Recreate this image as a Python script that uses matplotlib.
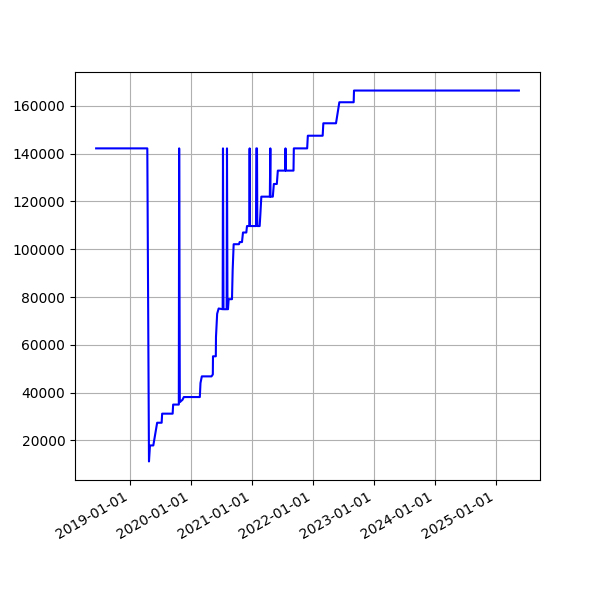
import matplotlib
matplotlib.use('Agg')
import matplotlib.pyplot as plt
import matplotlib.dates as mdates
import pandas as pd

# values
dates = [
    '2018-06-10', '2019-04-13', '2019-04-23', '2019-04-29', '2019-05-19',
    '2019-06-11', '2019-07-08', '2019-07-11', '2019-09-12', '2019-09-15',
    '2019-10-19', '2019-10-21', '2019-10-25', '2019-11-10', '2019-11-18',
    '2020-02-22', '2020-02-26', '2020-03-05', '2020-05-02', '2020-05-10',
    '2020-05-11', '2020-05-28', '2020-05-29', '2020-06-05', '2020-06-14',
    '2020-07-08', '2020-07-10', '2020-07-13', '2020-08-01', '2020-08-03',
    '2020-08-06', '2020-08-09', '2020-08-13', '2020-09-02', '2020-09-06',
    '2020-09-12', '2020-10-14', '2020-10-18', '2020-11-01', '2020-11-07',
    '2020-11-27', '2020-12-01', '2020-12-15', '2020-12-17', '2020-12-19',
    '2021-01-24', '2021-01-26', '2021-01-30', '2021-02-01', '2021-02-15',
    '2021-02-19', '2021-02-25', '2021-04-17', '2021-04-20', '2021-04-21',
    '2021-05-05', '2021-05-11', '2021-05-29', '2021-06-04', '2021-07-18',
    '2021-07-20', '2021-07-22', '2021-09-06', '2021-09-08', '2021-11-27',
    '2021-12-01', '2022-02-28', '2022-03-04', '2022-05-19', '2022-06-08',
    '2022-09-02', '2022-09-04', '2025-05-20',
]
values = [
    142200, 142200, 11200, 17900, 17900,
    27400, 27400, 31200, 31200, 35000,
    35000, 142200, 36000, 37000, 38150,
    38150, 44000, 46800, 46800, 47600,
    55200, 55200, 63300, 73000, 75200,
    74900, 142200, 74900, 74900, 142200,
    74900, 74900, 79100, 79100, 91200,
    102100, 102100, 103000, 103000, 107000,
    107000, 109700, 109700, 142200, 109700,
    109700, 142200, 142200, 109700, 109700,
    114300, 122000, 122000, 142200, 122000,
    122000, 127300, 127300, 132900, 132900,
    142200, 132900, 132900, 142200, 142200,
    147500, 147500, 152700, 152700, 161500,
    161500, 166400, 166400,
]

x = pd.to_datetime(dates)

fig, ax = plt.subplots(figsize=(6, 6), dpi=100)
ax.plot(x, values, color='blue', linewidth=1.5)
ax.grid(True)
ax.xaxis.set_major_locator(mdates.YearLocator())
ax.xaxis.set_major_formatter(mdates.DateFormatter('%Y-%m-%d'))
fig.autofmt_xdate()

fig.savefig('out.png')
